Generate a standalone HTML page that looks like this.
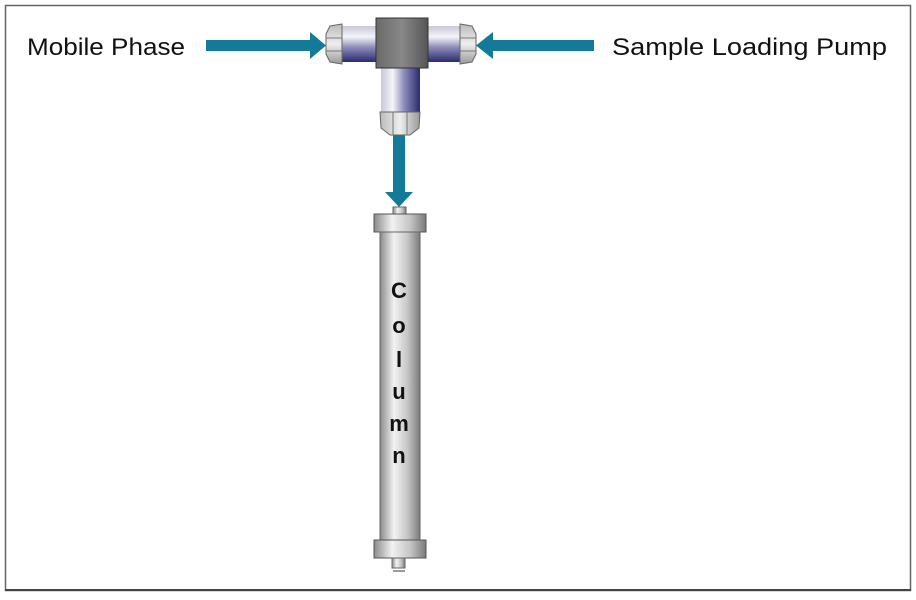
<!DOCTYPE html>
<html><head><style>
body{margin:0;background:#fff;}
</style></head><body>
<svg width="916" height="595" xmlns="http://www.w3.org/2000/svg">
<defs>
<linearGradient id="hv" x1="0" y1="0" x2="0" y2="1">
<stop offset="0" stop-color="#c8c8d8"/><stop offset="0.3" stop-color="#f4f4f8"/><stop offset="0.6" stop-color="#8a8ab8"/><stop offset="1" stop-color="#2a2a70"/></linearGradient>
<linearGradient id="vv" x1="0" y1="0" x2="1" y2="0">
<stop offset="0" stop-color="#c8c8d8"/><stop offset="0.3" stop-color="#f4f4f8"/><stop offset="0.6" stop-color="#8a8ab8"/><stop offset="1" stop-color="#2a2a70"/></linearGradient>
<linearGradient id="col" x1="0" y1="0" x2="1" y2="0">
<stop offset="0" stop-color="#8a8a8a"/><stop offset="0.35" stop-color="#f2f2f2"/><stop offset="0.7" stop-color="#c4c4c4"/><stop offset="1" stop-color="#7a7a7a"/></linearGradient>
<linearGradient id="blk" x1="0" y1="0" x2="1" y2="0">
<stop offset="0" stop-color="#6a6a6a"/><stop offset="0.5" stop-color="#888"/><stop offset="1" stop-color="#555"/></linearGradient>
<linearGradient id="nut" x1="0" y1="0" x2="1" y2="0">
<stop offset="0" stop-color="#bbb"/><stop offset="0.5" stop-color="#eee"/><stop offset="1" stop-color="#999"/></linearGradient>
<linearGradient id="nuth" x1="0" y1="0" x2="0" y2="1">
<stop offset="0" stop-color="#bbb"/><stop offset="0.5" stop-color="#eee"/><stop offset="1" stop-color="#999"/></linearGradient>
</defs>
<rect x="5.5" y="5.5" width="905" height="585" fill="#fff" stroke="#666" stroke-width="1.5"/>
<line x1="5" y1="590" x2="911" y2="590" stroke="#444" stroke-width="2"/>
<text x="27" y="55" font-family="Liberation Sans, sans-serif" font-size="24" fill="#111" textLength="158" lengthAdjust="spacingAndGlyphs">Mobile Phase</text>
<text x="612" y="55" font-family="Liberation Sans, sans-serif" font-size="24" fill="#111" textLength="275" lengthAdjust="spacingAndGlyphs">Sample Loading Pump</text>
<g fill="#137a9a">
<rect x="206" y="40" width="110" height="11"/><polygon points="310,32 326,45.5 310,59"/>
<rect x="488" y="40" width="106" height="11"/><polygon points="493,32 476,45.5 493,59"/>
<rect x="393" y="135" width="12" height="60"/><polygon points="385,192 413,192 399,207"/>
</g>
<rect x="335" y="26" width="45" height="36" fill="url(#hv)"/>
<rect x="425" y="26" width="45" height="36" fill="url(#hv)"/>
<rect x="381" y="66" width="39" height="48" fill="url(#vv)"/>
<rect x="376" y="18" width="52" height="50" fill="url(#blk)" stroke="#333" stroke-width="1"/>
<path d="M330,26 L342,24 L342,64 L330,62 L326,54 L326,34 Z" fill="url(#nuth)" stroke="#666"/>
<line x1="326" y1="38" x2="342" y2="38" stroke="#777"/><line x1="326" y1="51" x2="342" y2="51" stroke="#777"/>
<path d="M472,26 L460,24 L460,64 L472,62 L476,54 L476,34 Z" fill="url(#nuth)" stroke="#666"/>
<line x1="460" y1="38" x2="476" y2="38" stroke="#777"/><line x1="460" y1="51" x2="476" y2="51" stroke="#777"/>
<path d="M380,112 L420,112 L419,128 L410,135 L390,135 L381,128 Z" fill="url(#nut)" stroke="#666"/>
<line x1="393" y1="112" x2="393" y2="135" stroke="#777"/><line x1="407" y1="112" x2="407" y2="135" stroke="#777"/>
<rect x="393" y="207" width="13" height="8" fill="url(#col)" stroke="#666"/>
<rect x="374" y="214" width="52" height="18" fill="url(#col)" stroke="#555"/>
<rect x="380" y="232" width="40" height="308" fill="url(#col)" stroke="#666"/>
<rect x="374" y="540" width="52" height="18" fill="url(#col)" stroke="#555"/>
<rect x="392" y="558" width="13" height="10" fill="url(#col)" stroke="#666"/>
<line x1="393" y1="571" x2="405" y2="571" stroke="#99a" stroke-width="2"/>
<g font-family="Liberation Sans, sans-serif" font-size="22" font-weight="bold" fill="#111" text-anchor="middle">
<text x="399" y="298">C</text><text x="399" y="333">o</text><text x="399" y="367">l</text>
<text x="399" y="399">u</text><text x="399" y="431">m</text><text x="399" y="463">n</text>
</g>
</svg>
</body></html>
